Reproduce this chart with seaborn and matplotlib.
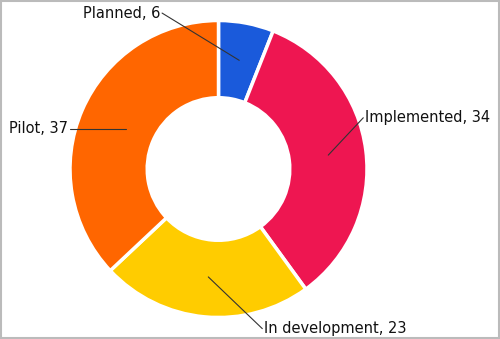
import numpy as np
import matplotlib
matplotlib.use("Agg")
import matplotlib.pyplot as plt
import seaborn as sns
from matplotlib.patches import Rectangle

categories = ["Planned", "Implemented", "In development", "Pilot"]
values = [6, 34, 23, 37]
colors = ["#1A5ADB", "#EE1651", "#FFCC00", "#FF6600"]

# label layout (data units, pie radius = 1): anchor radius, line end point, alignment
label_pos = [(0.745, -0.38, 1.05, "right"), (0.745, 0.975, 0.345, "left"),
             (0.73, 0.295, -1.075, "left"), (0.68, -1.0, None, "right")]

sns.set_theme(style="white")
plt.rcParams['font.family'] = ['DejaVu Sans']

fig = plt.figure(figsize=(5.0, 3.39), dpi=100)
R = 148.5
cx, cy = 218.5, 339 - 169
ax = fig.add_axes([(cx - R) / 500, (cy - R) / 339, 2 * R / 500, 2 * R / 339])
wedges, _ = ax.pie(values, colors=colors, startangle=90, counterclock=False,
                   radius=1.0,
                   wedgeprops=dict(width=0.52, edgecolor="white", linewidth=2.5))
ax.set_xlim(-1, 1)
ax.set_ylim(-1, 1)
ax.set_aspect("equal")
ax.axis("off")

for w, cat, v, (r, lx, ly, ha) in zip(wedges, categories, values, label_pos):
    ang = np.deg2rad((w.theta1 + w.theta2) / 2)
    ax_, ay_ = r * np.cos(ang), r * np.sin(ang)
    if ly is None:
        ly = ay_
    ax.plot([ax_, lx], [ay_, ly], color="#333333", lw=0.8, clip_on=False)
    dx = 0.012 if ha == "left" else -0.012
    ax.text(lx + dx, ly, f"{cat}, {v}", ha=ha, va="center", fontsize=10.5,
            color="#111111", clip_on=False)

fig.patches.append(Rectangle((0.001, 0.0015), 0.997, 0.996, transform=fig.transFigure,
                             fill=False, edgecolor="#BBBBBB", linewidth=1.5))
fig.savefig("out.png", dpi=100)
